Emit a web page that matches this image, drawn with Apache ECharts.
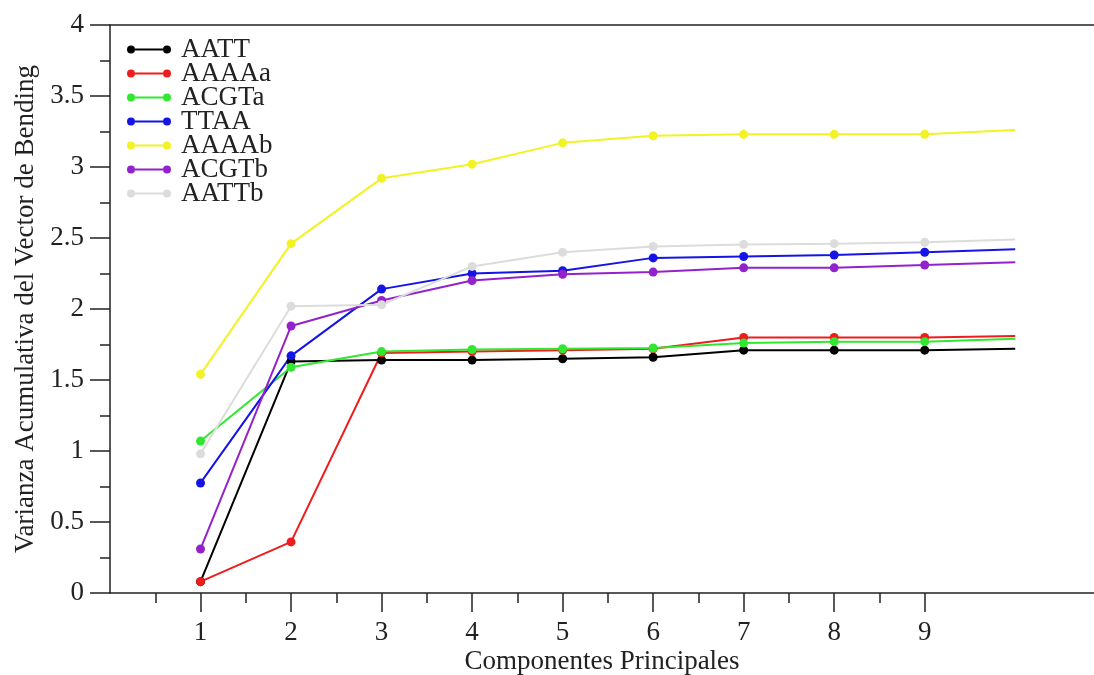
<!DOCTYPE html>
<html>
<head>
<meta charset="utf-8">
<script src="https://cdn.jsdelivr.net/npm/echarts@6/dist/echarts.min.js"></script>
<style>
html,body{margin:0;padding:0;background:#fff;}
#chart{width:1094px;height:675px;}
</style>
</head>
<body>
<div id="chart"></div>
<script>
const components = [1, 2, 3, 4, 5, 6, 7, 8, 9, 10];
const xTickLabels = [1, 2, 3, 4, 5, 6, 7, 8, 9];
const xMinorTicks = [0.5, 1.5, 2.5, 3.5, 4.5, 5.5, 6.5, 7.5, 8.5];
const seriesNames = ['AATT', 'AAAAa', 'ACGTa', 'TTAA', 'AAAAb', 'ACGTb', 'AATTb'];
const AATT  = [0.08, 1.63, 1.64, 1.64, 1.65, 1.66, 1.71, 1.71, 1.71, 1.72];
const AAAAa = [0.08, 0.36, 1.69, 1.70, 1.71, 1.72, 1.80, 1.80, 1.80, 1.81];
const ACGTa = [1.07, 1.59, 1.70, 1.715, 1.72, 1.725, 1.76, 1.77, 1.77, 1.79];
const TTAA  = [0.775, 1.67, 2.14, 2.25, 2.27, 2.36, 2.37, 2.38, 2.40, 2.42];
const AAAAb = [1.54, 2.46, 2.92, 3.02, 3.17, 3.22, 3.23, 3.23, 3.23, 3.26];
const ACGTb = [0.31, 1.88, 2.06, 2.20, 2.245, 2.26, 2.29, 2.29, 2.31, 2.33];
const AATTb = [0.98, 2.02, 2.03, 2.30, 2.40, 2.44, 2.455, 2.46, 2.47, 2.49];
const seriesValues = [AATT, AAAAa, ACGTa, TTAA, AAAAb, ACGTb, AATTb];
const colors = ['#000000', '#ee1c1c', '#30e830', '#1414e6', '#f2f224', '#9322cc', '#dcdcdc'];

const FONT = '"Liberation Serif", "DejaVu Serif", serif';
const FS = 27;
const chart = echarts.init(document.getElementById('chart'));

const legendIcon = 'path://M0,4a4,4 0 1,0 8,0a4,4 0 1,0 -8,0zM36,4a4,4 0 1,0 8,0a4,4 0 1,0 -8,0zM8,3.1h28v1.8h-28z';

const series = seriesNames.map((name, k) => ({
  name: name,
  type: 'line',
  xAxisIndex: 0,
  yAxisIndex: 0,
  data: seriesValues[k].map((v, i) => ({
    value: [components[i], v],
    symbol: i === components.length - 1 ? 'none' : 'circle'
  })),
  symbol: 'circle',
  symbolSize: 9,
  color: colors[k],
  lineStyle: { width: 2, color: colors[k] },
  itemStyle: { color: colors[k] },
  emphasis: { disabled: true },
  animation: false,
  z: 2
}));

chart.setOption({
  backgroundColor: '#ffffff',
  animation: false,
  grid: { left: 110, right: 0, top: 25, bottom: 82, containLabel: false, outerBoundsMode: 'none' },
  legend: {
    orient: 'vertical',
    left: 122,
    top: 31,
    itemWidth: 44,
    itemHeight: 8,
    itemGap: -3,
    icon: legendIcon,
    data: seriesNames,
    textStyle: { fontFamily: FONT, fontSize: FS, color: '#222', lineHeight: 24, padding: [0, 0, 0, 5] }
  },
  xAxis: [
    {
      type: 'value',
      min: 0,
      max: 10.87,
      name: 'Componentes Principales',
      nameLocation: 'middle',
      nameGap: 55,
      nameMoveOverlap: false,
      nameTextStyle: { fontFamily: FONT, fontSize: FS, color: '#222' },
      axisLine: { show: true, onZero: false, lineStyle: { color: '#222', width: 1.5 } },
      axisTick: { show: true, inside: false, length: 19, customValues: xTickLabels, lineStyle: { color: '#222', width: 1.5 } },
      axisLabel: { show: true, customValues: xTickLabels, margin: 26, fontFamily: FONT, fontSize: FS, color: '#222' },
      splitLine: { show: false }
    },
    {
      type: 'value',
      min: 0,
      max: 10.87,
      position: 'bottom',
      axisLine: { show: false },
      axisTick: { show: true, inside: false, length: 10, customValues: xMinorTicks, lineStyle: { color: '#222', width: 1.5 } },
      axisLabel: { show: false },
      splitLine: { show: false }
    },
    {
      type: 'value',
      min: 0,
      max: 10.87,
      position: 'top',
      axisLine: { show: true, onZero: false, lineStyle: { color: '#222', width: 1.5 } },
      axisTick: { show: false },
      axisLabel: { show: false },
      splitLine: { show: false }
    }
  ],
  yAxis: {
    type: 'value',
    min: 0,
    max: 4,
    interval: 0.5,
    name: 'Varianza Acumulativa del Vector de Bending',
    nameLocation: 'middle',
    nameGap: 70,
    nameTextStyle: { fontFamily: FONT, fontSize: FS, color: '#222' },
    axisLine: { show: true, onZero: false, lineStyle: { color: '#222', width: 1.5 } },
    axisTick: { show: true, inside: false, length: 20, lineStyle: { color: '#222', width: 1.5 } },
    minorTick: { show: true, splitNumber: 2, length: 10, lineStyle: { color: '#222', width: 1.5 } },
    axisLabel: { margin: 26, fontFamily: FONT, fontSize: FS, color: '#222' },
    splitLine: { show: false }
  },
  series: series
});
</script>
</body>
</html>
